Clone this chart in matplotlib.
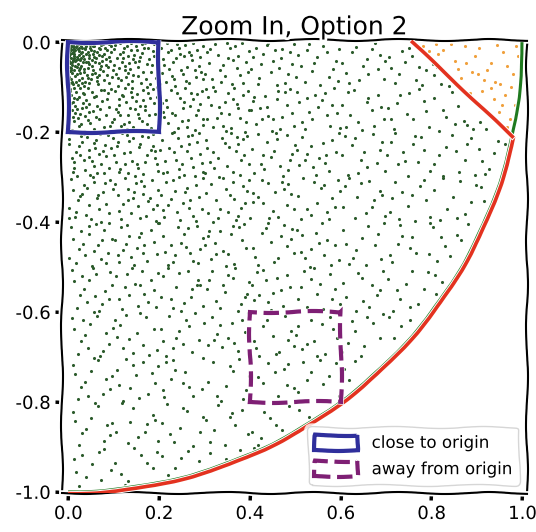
import matplotlib.pyplot as plt
from matplotlib.patches import Rectangle, Arc

# sample points in thousandths (x, y); these fall inside the red boundary
inside_pts = [
    # top band
    (3,-5),(12,-2),(7,-18),(25,-4),(2,-31),(18,-11),(9,-9),(41,-3),(5,-47),(30,-22),
    (14,-27),(22,-15),(6,-63),(55,-8),(37,-12),(11,-40),(64,-21),(28,-35),(3,-78),(47,-29),
    (19,-6),(8,-24),(33,-1),(15,-52),(72,-6),(44,-44),(26,-58),(4,-14),(58,-33),(20,-71),
    (9,-88),(81,-14),(35,-66),(13,-3),(50,-17),(2,-55),(67,-47),(23,-29),(90,-5),(17,-39),
    (39,-27),(6,-8),(75,-30),(29,-9),(12,-61),(53,-53),(1,-22),(84,-38),(42,-72),(16,-17),
    (61,-2),(24,-84),(7,-35),(95,-23),(32,-45),(48,-6),(10,-93),(70,-60),(36,-37),(4,-3),
    (57,-19),(21,-49),(87,-55),(14,-11),(45,-91),(27,-2),(63,-77),(8,-69),(38,-16),(78,-85),
    (19,-33),(52,-40),(5,-26),(92,-43),(31,-79),(11,-7),(68,-12),(43,-57),(24,-20),(2,-97),
    (16,-43),(59,-68),(35,-5),(85,-72),(9,-51),(47,-36),(22,-95),(74,-41),(13,-20),(66,-94),
    (40,-9),(3,-41),(98,-63),(27,-68),(55,-26),(18,-1),(80,-26),(33,-31),(6,-82),(50,-83),
    (12,-30),(71,-16),(29,-53),(89,-90),(44,-21),(7,-57),(62,-35),(20,-4),(37,-88),(94,-9),
    (15,-75),(54,-62),(25,-13),(83,-50),(4,-65),(46,-48),(77,-4),(10,-15),(34,-60),(68,-74),
    (21,-38),(58,-9),(1,-7),(91,-33),(39,-45),(17,-89),(73,-52),(28,-25),(8,-44),(49,-13),
    (64,-87),(23,-61),(86,-17),(13,-35),(42,-2),(5,-91),(60,-45),(31,-14),(96,-78),(19,-56),
    (53,-71),(26,-40),(76,-65),(11,-25),(36,-97),(82,-3),(44,-79),(2,-12),(69,-28),(30,-91),
    (104,-6),(121,-22),(138,-3),(157,-41),(112,-58),(175,-12),(143,-73),(190,-30),(108,-35),(166,-66),
    (129,-9),(184,-51),(117,-84),(152,-18),(199,-7),(135,-47),(161,-90),(102,-15),(178,-38),(125,-63),
    (146,-28),(193,-79),(110,-97),(169,-2),(132,-31),(155,-55),(187,-20),(119,-44),(141,-86),(173,-49),
    (106,-70),(163,-25),(128,-77),(196,-60),(150,-8),(114,-27),(181,-93),(137,-60),(159,-34),(101,-50),
    (122,-13),(171,-81),(147,-44),(189,-4),(133,-92),(115,-2),(167,-14),(142,-38),(197,-44),(126,-52),
    (154,-76),(109,-80),(182,-67),(139,-17),(174,-99),(120,-36),(162,-5),(131,-69),
    (204,-12),(231,-45),(258,-7),(279,-63),(215,-88),(246,-26),(291,-34),(223,-59),(267,-91),(209,-37),
    (240,-4),(284,-18),(252,-71),(219,-22),(296,-82),(236,-97),(272,-40),(207,-69),(261,-55),(244,-14),
    (288,-52),(228,-76),(275,-3),(212,-51),(255,-30),(298,-9),(233,-83),(266,-22),(218,-2),(281,-78),
    (249,-61),(203,-94),(270,-29),(238,-35),(293,-66),(226,-17),(259,-86),
    (306,-23),(334,-61),(368,-8),(391,-44),(317,-82),(352,-35),(379,-72),(324,-5),(360,-94),(398,-19),
    (341,-50),(311,-47),(386,-90),(329,-28),(372,-57),(302,-70),(356,-13),(395,-66),(337,-88),(364,-40),
    (320,-99),(383,-3),(346,-76),(313,-15),(375,-30),(349,-2),
    (408,-34),(437,-7),(465,-58),(489,-22),(421,-80),(452,-41),(478,-90),(413,-12),(446,-67),(494,-49),
    (430,-26),(471,-15),(403,-60),(459,-96),(484,-71),(425,-48),(441,-1),(468,-36),(497,-5),(417,-93),(455,-18),
    (507,-28),(536,-64),(562,-9),(589,-41),(521,-88),(548,-33),(575,-77),(513,-52),(597,-15),(554,-95),
    (530,-4),(583,-60),(569,-23),(502,-78),(541,-47),(594,-86),(526,-17),
    (604,-46),(633,-11),(661,-70),(687,-29),(618,-91),(649,-54),(676,-3),(695,-82),(625,-23),(657,-37),
    (611,-68),(682,-59),(640,-85),(669,-16),(698,-42),
    (706,-33),(728,-71),(751,-12),(773,-56),(719,-90),(742,-44),(765,-84),(788,-63),(734,-20),(711,-58),
    (780,-95),(757,-30),(806,-72),(821,-93),(812,-55),(838,-97),(803,-48),
    # second band
    (4,-104),(19,-127),(8,-151),(33,-112),(12,-176),(47,-138),(2,-193),(26,-101),(61,-119),(15,-143),
    (38,-165),(7,-118),(72,-107),(23,-186),(54,-153),(10,-132),(85,-126),(30,-147),(3,-161),(44,-103),
    (67,-172),(18,-110),(91,-144),(36,-197),(6,-135),(58,-122),(27,-159),(78,-189),(13,-102),(49,-180),
    (1,-183),(40,-129),(70,-149),(21,-169),(95,-104),(9,-195),(52,-111),(32,-136),(83,-163),(16,-157),
    (64,-141),(5,-108),(43,-174),(75,-131),(25,-121),(97,-178),(11,-167),(57,-194),(35,-116),(88,-113),
    (20,-149),(68,-199),(3,-140),(46,-156),(80,-106),(29,-182),(62,-166),(14,-124),(93,-187),(39,-144),
    (103,-108),(127,-134),(152,-115),(178,-162),(116,-187),(141,-101),(169,-141),(195,-123),(109,-156),(134,-178),
    (160,-196),(186,-104),(121,-120),(147,-149),(173,-183),(101,-171),(138,-111),(164,-128),(191,-159),(113,-140),
    (156,-169),(182,-190),(125,-102),(149,-131),(176,-114),(105,-195),(131,-162),(158,-143),(198,-176),(118,-117),
    (144,-188),(170,-152),(111,-126),(136,-146),(189,-135),(123,-181),(166,-106),(106,-149),(153,-160),(180,-125),
    (129,-193),(196,-100),(140,-122),(162,-175),(115,-163),
    (271,-112),(208,-155),(243,-191),(290,-138),(227,-106),(264,-173),(215,-129),(252,-147),(296,-184),(235,-161),
    (203,-118),(279,-195),(258,-102),(221,-180),(287,-152),(246,-124),(212,-167),(269,-141),(233,-199),(294,-109),
    (250,-176),(206,-135),(281,-163),(239,-113),(262,-188),(218,-144),(275,-127),(229,-158),(298,-170),(255,-133),
    (201,-190),(284,-116),
    (308,-121),(337,-158),(366,-103),(392,-177),(319,-189),(345,-133),(373,-146),(303,-105),(358,-191),(384,-118),
    (327,-168),(351,-112),(398,-152),(314,-140),(379,-169),(340,-186),(362,-127),(389,-199),(323,-109),(355,-160),
    (305,-172),(371,-137),(395,-108),(332,-144),(348,-197),
    (423,-147),(488,-105),(451,-172),(407,-131),(466,-194),(434,-119),(492,-158),(414,-183),(459,-126),(441,-164),
    (477,-111),(402,-152),(448,-197),(483,-139),(426,-171),(463,-108),(410,-121),(497,-186),(437,-145),(470,-167),
    (509,-133),(538,-171),(566,-112),(591,-158),(522,-194),(550,-145),(577,-186),(503,-110),(559,-128),(585,-103),
    (531,-156),(598,-191),(544,-118),(571,-163),(515,-177),(580,-139),(527,-125),
    (612,-189),(657,-134),(695,-171),(630,-107),(668,-152),(604,-140),(646,-196),(682,-118),(621,-163),(661,-125),
    (639,-178),(689,-144),(616,-111),(674,-186),
    (704,-146),(731,-118),(759,-172),(784,-131),(717,-193),(746,-160),(772,-104),(795,-189),(725,-135),(751,-113),
    (710,-170),(788,-154),
    (806,-124),(833,-167),(858,-141),(879,-185),(817,-198),(845,-110),(871,-176),(826,-152),(892,-194),(852,-183),
    (906,-178),(921,-193),
    # third band
    (5,-203),(23,-231),(41,-212),(67,-248),(12,-279),(88,-207),(34,-262),(56,-225),(79,-291),(17,-244),
    (49,-296),(95,-236),(28,-209),(73,-271),(8,-258),(61,-218),(38,-284),(84,-253),(2,-227),(52,-265),
    (19,-298),(70,-204),(45,-239),(91,-280),(31,-221),(14,-267),(64,-292),(99,-214),(26,-250),(57,-276),
    (82,-229),(36,-204),(10,-289),(76,-242),(47,-256),(3,-215),(59,-235),
    (123,-247),(188,-205),(151,-272),(107,-231),(166,-294),(134,-219),(192,-258),(114,-283),(159,-226),(141,-264),
    (177,-211),(102,-252),(148,-297),(183,-239),(126,-271),(163,-208),(110,-221),(197,-286),(137,-245),(170,-267),
    (119,-203),(155,-279),(186,-230),(131,-292),(173,-250),(105,-266),(144,-214),(191,-241),(112,-289),(157,-234),
    (195,-271),(130,-207),
    (206,-217),(237,-262),(264,-209),(291,-249),(218,-288),(248,-231),(276,-277),(203,-240),(255,-296),(283,-222),
    (229,-203),(270,-258),(297,-289),(214,-264),(242,-214),(261,-241),(289,-201),(223,-236),(251,-271),(279,-298),
    (209,-291),(234,-245),(267,-226),(294,-268),(245,-283),(272,-206),
    (303,-218),(379,-295),(358,-202),(321,-280),(387,-252),(346,-224),(312,-267),(369,-241),(333,-299),(394,-209),
    (350,-276),(306,-235),(381,-263),(339,-213),(362,-288),(318,-244),(375,-227),(329,-258),(398,-270),(355,-233),
    (301,-290),(384,-216),(371,-212),
    (405,-238),(432,-281),(461,-216),(488,-263),(417,-204),(446,-256),(473,-297),(499,-229),(424,-271),(454,-241),
    (481,-207),(409,-292),(438,-223),(467,-276),(494,-249),(428,-250),(457,-202),(485,-285),
    (568,-252),(504,-240),(546,-296),(582,-218),(521,-263),(561,-225),(539,-278),(589,-244),(516,-211),(574,-286),
    (552,-257),(509,-273),(535,-230),(597,-203),(566,-268),(527,-249),
    (603,-252),(631,-213),(659,-277),(686,-239),(617,-295),(644,-261),(672,-205),(697,-287),(625,-228),(652,-244),
    (679,-268),(609,-209),(690,-222),(638,-290),
    (759,-226),(741,-264),(777,-211),(702,-252),(748,-297),(783,-239),(726,-271),(763,-208),(710,-221),(797,-286),
    (737,-245),(770,-267),(719,-203),
    (805,-271),(832,-233),(861,-288),(887,-214),(817,-252),(846,-206),(873,-262),(896,-295),(825,-297),(854,-241),
    (879,-226),(905,-238),(927,-281),(946,-219),(912,-264),(938,-247),(918,-293),(961,-226),
    # fourth band
    (7,-304),(31,-337),(58,-312),(84,-359),(15,-388),(42,-325),(69,-371),(93,-306),(22,-352),(50,-394),
    (77,-333),(3,-368),(36,-318),(63,-347),(89,-381),(11,-329),(46,-362),(73,-399),(26,-343),(55,-301),
    (98,-327),(18,-377),(81,-314),(39,-385),(66,-340),(1,-392),
    (104,-316),(133,-352),(161,-309),(188,-371),(117,-393),(146,-334),(172,-387),(199,-328),(125,-302),(154,-365),
    (181,-346),(109,-341),(139,-379),(167,-320),(193,-397),(121,-360),(150,-313),(177,-354),(131,-326),(158,-391),
    (185,-307),(113,-375),(143,-346),(196,-362),(164,-337),
    (212,-389),(257,-334),(295,-371),(230,-307),(268,-352),(204,-340),(246,-396),(282,-318),(221,-363),(261,-325),
    (239,-378),(289,-344),(216,-311),(274,-386),(252,-357),(209,-373),(235,-330),(297,-303),(266,-368),(227,-349),
    (281,-397),(244,-301),
    (303,-336),(334,-371),(362,-312),(389,-358),(318,-399),(347,-327),(375,-386),(398,-307),(326,-350),(356,-340),
    (381,-368),(309,-381),(341,-303),(369,-395),(393,-331),(314,-316),(351,-377),(385,-320),(330,-392),(365,-349),
    (450,-376),(406,-335),(481,-363),(439,-313),(462,-388),(418,-344),(475,-327),(429,-358),(498,-370),(455,-333),
    (401,-390),(484,-316),(471,-312),(408,-355),(443,-391),(490,-338),(427,-306),
    (506,-342),(534,-384),(563,-317),(588,-366),(518,-303),(547,-357),(575,-394),(599,-330),(525,-372),(556,-325),
    (582,-347),(512,-393),(541,-311),(569,-378),(594,-307),
    (663,-308),(610,-321),(697,-386),(637,-345),(670,-367),(619,-303),(655,-379),(686,-330),(631,-392),(673,-350),
    (605,-366),(644,-314),(691,-341),
    (708,-377),(736,-334),(763,-398),(789,-351),(720,-312),(748,-365),(774,-321),(796,-388),(728,-393),(756,-341),
    (783,-306),(714,-346),
    (806,-329),(835,-372),(862,-309),(887,-356),(818,-396),(847,-344),(873,-383),(899,-318),(826,-302),(856,-391),
    (908,-322),(916,-353),
    # fifth band
    (6,-412),(33,-448),(61,-405),(87,-469),(17,-491),(45,-426),(72,-482),(96,-437),(24,-459),(53,-497),
    (80,-417),(10,-438),(38,-474),(66,-451),(91,-403),(29,-421),(58,-465),(84,-492),(2,-480),(47,-408),(75,-440),
    (112,-489),(157,-434),(195,-471),(130,-407),(168,-452),(104,-440),(146,-496),(182,-418),(121,-463),(161,-425),
    (139,-478),(189,-444),(116,-411),(174,-486),(152,-457),(109,-473),(135,-430),(197,-403),(166,-468),(127,-449),
    (208,-431),(236,-474),(263,-414),(290,-459),(219,-495),(248,-447),(275,-486),(201,-402),(256,-426),(283,-408),
    (227,-452),(269,-470),(297,-435),(214,-466),(241,-411),(287,-491),(232,-489),(259,-455),
    (323,-447),(388,-405),(351,-472),(307,-431),(366,-494),(334,-419),(392,-458),(314,-483),(359,-426),(341,-464),
    (377,-411),(302,-452),(348,-497),(383,-439),(326,-471),(363,-408),(310,-421),
    (407,-458),(435,-413),(463,-481),(490,-437),(419,-496),(447,-445),(475,-407),(498,-469),(426,-425),(454,-490),
    (482,-454),(412,-478),(441,-402),(469,-432),(494,-416),
    (564,-473),(515,-429),(552,-447),(596,-484),(535,-461),(503,-418),(579,-495),(558,-402),(521,-480),(587,-452),
    (546,-424),(512,-467),(569,-441),(533,-499),
    (606,-417),(634,-463),(661,-408),(689,-482),(619,-494),(647,-436),(675,-451),(696,-403),(627,-479),(655,-495),
    (682,-427),(612,-448),
    (752,-457),(709,-473),(735,-430),(797,-403),(766,-468),(727,-449),(712,-489),(757,-434),(795,-471),(730,-407),
    (804,-412),(829,-453),(857,-428),(881,-405),(812,-487),(841,-476),(866,-441),(822,-434),
    # sixth band
    (8,-507),(35,-549),(62,-516),(89,-571),(19,-592),(47,-528),(74,-583),(97,-539),(26,-562),(55,-503),
    (81,-554),(12,-531),(41,-578),(68,-597),(93,-512),(30,-519),(59,-565),
    (106,-521),(134,-563),(162,-509),(189,-552),(119,-594),(147,-537),(175,-578),(199,-513),(126,-545),(155,-586),
    (182,-529),(111,-571),(140,-502),(168,-559),(194,-589),(130,-515),(158,-541),
    (248,-597),(283,-539),(226,-571),(263,-508),(210,-521),(297,-586),(237,-545),(270,-567),(219,-503),(255,-579),
    (286,-530),(231,-592),(273,-550),(205,-566),(244,-514),(291,-541),
    (305,-548),(334,-591),(362,-525),(389,-567),(317,-508),(346,-556),(374,-597),(398,-533),(325,-575),(353,-517),
    (381,-582),(310,-530),(340,-539),(368,-503),(393,-559),
    (430,-507),(468,-552),(404,-540),(446,-596),(482,-518),(421,-563),(461,-525),(439,-578),(489,-544),(416,-511),
    (474,-586),(452,-557),(409,-573),(435,-530),
    (507,-571),(535,-527),(562,-594),(588,-549),(519,-508),(548,-561),(576,-515),(599,-583),(526,-588),(555,-538),
    (581,-572),(513,-544),(542,-502),
    (687,-552),(646,-524),(612,-567),(669,-541),(633,-599),(694,-509),(650,-576),(606,-535),(681,-563),(639,-513),
    (662,-588),
    (704,-526),(731,-571),(758,-509),(783,-548),(716,-597),(744,-538),(771,-583),(792,-512),(725,-552),(752,-589),
    (808,-517),(823,-534),(811,-561),
    # seventh band
    (9,-614),(37,-652),(64,-609),(91,-671),(21,-693),(49,-627),(76,-686),(98,-636),(28,-665),(57,-601),
    (83,-647),(14,-639),(43,-681),(70,-698),(33,-619),
    (171,-612),(108,-655),(143,-691),(190,-638),(127,-606),(164,-673),(115,-629),(152,-647),(196,-684),(135,-661),
    (103,-618),(179,-695),(158,-602),(121,-680),
    (204,-637),(232,-681),(260,-617),(288,-662),(216,-698),(245,-643),(273,-689),(299,-625),(223,-608),(252,-671),
    (280,-602),(209,-665),(238,-657),(266,-632),
    (382,-618),(321,-663),(361,-625),(339,-678),(389,-644),(316,-611),(374,-686),(352,-657),(309,-673),(335,-630),
    (397,-603),(366,-668),(327,-649),
    (409,-664),(437,-617),(464,-689),(491,-642),(421,-699),(450,-653),(477,-608),(498,-676),(428,-631),(457,-694),
    (484,-662),(414,-681),
    (507,-631),(566,-694),(534,-619),(592,-658),(514,-683),(559,-626),(541,-664),(577,-611),(502,-652),(548,-697),
    (583,-639),(526,-671),
    (603,-689),(631,-643),(659,-611),(686,-657),(617,-668),(645,-697),(672,-625),(694,-604),(625,-621),(652,-676),
    (707,-612),(733,-631),(718,-659),(752,-618),
    # eighth band
    (10,-718),(38,-756),(65,-707),(92,-771),(22,-794),(50,-731),(77,-783),(96,-742),(29,-766),(58,-702),
    (84,-749),(15,-739),(44,-788),
    (108,-729),(136,-769),(164,-712),(191,-757),(121,-797),(149,-740),(177,-783),(199,-721),(128,-705),(157,-791),
    (185,-736),(113,-762),(143,-718),
    (216,-711),(274,-786),(252,-757),(209,-773),(235,-730),(297,-703),(266,-768),(227,-749),(212,-789),(257,-734),
    (295,-771),(230,-707),
    (307,-756),(336,-798),(364,-731),(391,-774),(319,-712),(348,-765),(376,-705),(398,-743),(327,-786),(356,-721),
    (384,-794),
    (481,-763),(439,-713),(462,-788),(418,-744),(475,-727),(429,-758),(498,-770),(455,-733),(401,-790),(484,-716),
    (506,-779),(534,-733),(562,-761),(589,-714),(518,-712),(547,-796),(575,-742),(597,-787),(525,-752),(554,-706),
    (608,-726),(631,-708),(619,-752),
    # ninth band
    (11,-823),(39,-861),(66,-809),(93,-874),(23,-897),(51,-836),(78,-886),(97,-847),(30,-869),(59,-803),
    (86,-852),(16,-843),
    (197,-886),(137,-845),(170,-867),(119,-803),(155,-879),(186,-830),(131,-892),(173,-850),(105,-866),(144,-814),
    (191,-841),
    (206,-846),(234,-889),(262,-821),(290,-866),(218,-804),(247,-857),(275,-898),(297,-834),(225,-872),(254,-813),
    (312,-889),(357,-834),(395,-871),(330,-807),(368,-852),(304,-840),(346,-896),(382,-818),(321,-863),(361,-825),
    (405,-868),(431,-823),(458,-851),(486,-809),(417,-896),(444,-836),(472,-862),(424,-881),
    (508,-817),(531,-833),
    # bottom band
    (12,-928),(40,-967),(67,-912),(94,-951),(25,-988),(53,-939),(80,-904),(31,-919),(72,-974),(18,-955),
    (104,-937),(132,-976),(161,-919),(188,-948),(117,-961),(145,-902),(173,-935),(126,-984),(196,-911),
    (207,-921),(235,-947),(263,-909),(221,-962),(289,-931),(248,-925),
    (312,-914),(347,-927),(378,-906),(409,-903),
]

# points between the red boundary and the unit circle
outside_pts = [
    (782,-8),(794,-19),(826,-18),(851,-42),(873,-9),(889,-66),(842,-4),(864,-80),(815,-27),(895,-31),
    (858,-60),(904,-12),(931,-47),(958,-23),(979,-71),(916,-85),(945,-6),(967,-52),(990,-30),(922,-61),
    (951,-94),(987,-9),(884,-113),(912,-108),(938,-126),(961,-117),(984,-139),(949,-155),(972,-170),(990,-112),
    (930,-103),(966,-189),(809,-5),(877,-47),(903,-70),(955,-140),(940,-88),(975,-100),(998,-50),
]

# red boundary: arc down to the corner, then a straight edge to the top
red_corner = (0.978, -0.21)
red_top = (0.758, 0.0)
red_corner_angle = 347.9

# zoom windows (x, y, size)
near_box = (0.0, -0.2, 0.2)
far_box = (0.4, -0.8, 0.2)

x_ticks = [0.0, 0.2, 0.4, 0.6, 0.8, 1.0]
x_tick_labels = ["0.0", "0.2", "0.4", "0.6", "0.8", "1.0"]
y_ticks = [0.0, -0.2, -0.4, -0.6, -0.8, -1.0]
y_tick_labels = ["0.0", "-0.2", "-0.4", "-0.6", "-0.8", "-1.0"]

plt.xkcd(scale=1, length=100, randomness=2)
plt.rcParams['font.family'] = ['DejaVu Sans']
plt.rcParams['axes.unicode_minus'] = False

fig = plt.figure(figsize=(5.36, 5.32), dpi=100)
ax = fig.add_axes([0.116, 0.073, 0.867, 0.852])

in_x = [p[0] / 1000 for p in inside_pts]
in_y = [p[1] / 1000 for p in inside_pts]
out_x = [p[0] / 1000 for p in outside_pts]
out_y = [p[1] / 1000 for p in outside_pts]

sc1 = ax.scatter(in_x, in_y, s=5, c='#2b5b2b', linewidths=0, zorder=2, path_effects=[])
sc2 = ax.scatter(out_x, out_y, s=5, c='#f0a03c', linewidths=0, zorder=2, path_effects=[])
sc1.set_sketch_params(None)
sc2.set_sketch_params(None)

# unit circle and the red boundary
green_arc = Arc((0, 0), 2, 2, theta1=270, theta2=360, color='#1f7a1f', lw=2.2, zorder=3)
red_arc = Arc((0, 0), 2.008, 2.008, theta1=270, theta2=red_corner_angle,
              color='#e3321f', lw=2.6, zorder=4)
ax.add_patch(green_arc)
ax.add_patch(red_arc)
red_edge, = ax.plot([red_corner[0], red_top[0]], [red_corner[1], red_top[1]],
                    color='#e3321f', lw=2.6, zorder=4)
for artist in (green_arc, red_arc, red_edge):
    artist.set_sketch_params(scale=0.4, length=100, randomness=2)

r1 = Rectangle((near_box[0], near_box[1]), near_box[2], near_box[2], fill=False,
               edgecolor='#2f2f9c', lw=3, zorder=5, label='close to origin')
r2 = Rectangle((far_box[0], far_box[1]), far_box[2], far_box[2], fill=False,
               edgecolor='#7e1f74', lw=3, ls='--', zorder=5, label='away from origin')
ax.add_patch(r1)
ax.add_patch(r2)

ax.set_xlim(-0.013, 1.01)
ax.set_ylim(-1.003, 0.005)
ax.set_xticks(x_ticks)
ax.set_xticklabels(x_tick_labels)
ax.set_yticks(y_ticks)
ax.set_yticklabels(y_tick_labels)
ax.tick_params(labelsize=13, length=5, width=2.5)
ax.set_title("Zoom In, Option 2", fontsize=18, pad=4)

ax.legend(handles=[r1, r2], loc='lower right', fontsize=12, handlelength=2.6,
          handleheight=1.0, borderaxespad=0.5)

plt.savefig("out.png", dpi=100)
